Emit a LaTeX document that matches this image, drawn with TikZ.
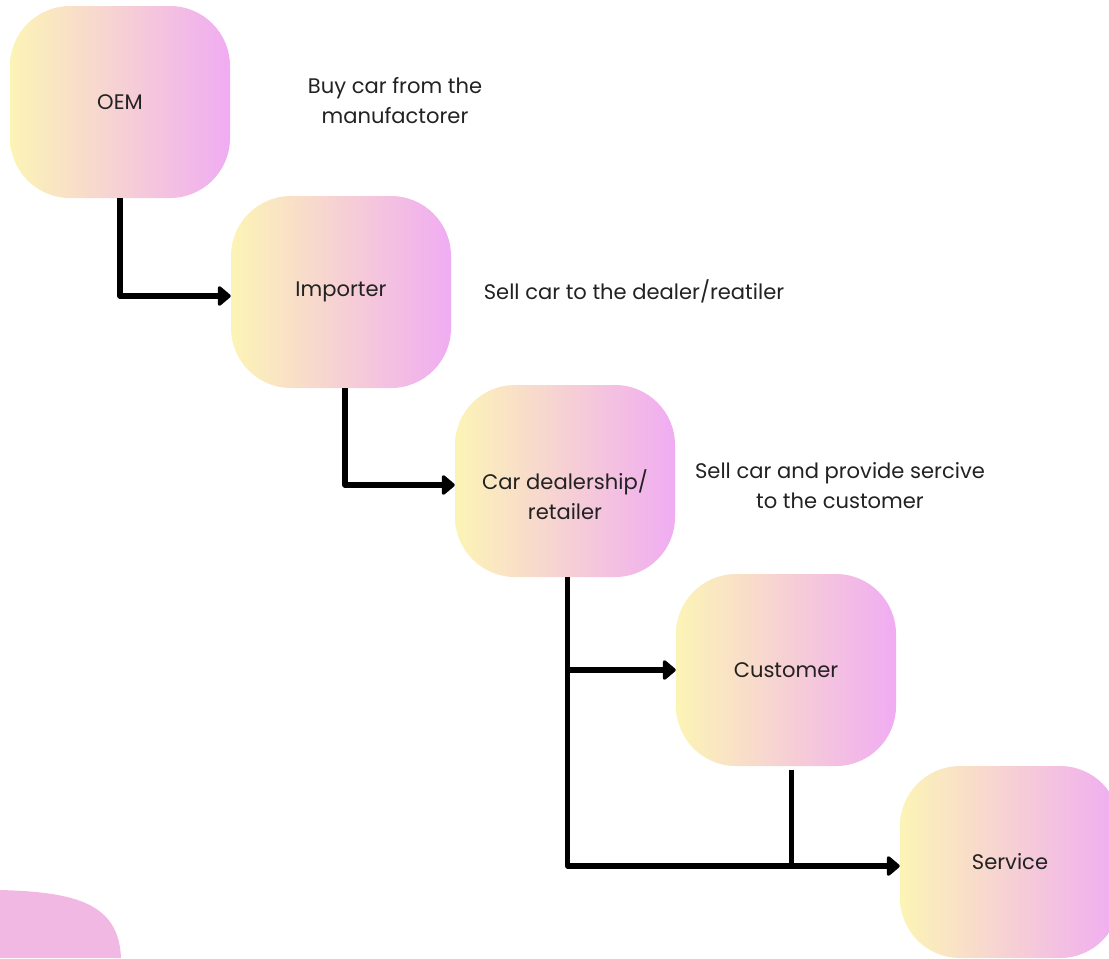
\documentclass[tikz,border=0pt]{standalone}
\usepackage{fontspec}
\setmainfont{Poppins}
\usetikzlibrary{arrows.meta}
\definecolor{gy}{RGB}{252,244,182}
\definecolor{gp}{RGB}{240,172,242}
\definecolor{blob}{RGB}{241,184,228}
\definecolor{txt}{RGB}{34,34,34}
\tikzset{
  box/.style={rounded corners=45pt, left color=gy, right color=gp, draw=none,
    minimum width=165pt, minimum height=144pt, inner sep=0pt, align=center,
    text=txt, font=\fontsize{15.8}{22.5}\selectfont},
  note/.style={align=center, text=txt, font=\fontsize{15.8}{22.5}\selectfont},
  conn/.style={line width=3.9pt, line join=round, -{Triangle[length=10.5pt,width=17pt,round]}},
  plain/.style={line width=3.9pt}
}
\begin{document}
\begin{tikzpicture}[x=0.75pt,y=-0.75pt]
\useasboundingbox (0,0) rectangle (1109,958);
\clip (0,0) rectangle (1109,958);
\fill[blob] (0,958) -- (0,890) .. controls (75,892) and (119,903) .. (121,958) -- cycle;
\node[box] (oem) at (120,102) {OEM};
\node[box] (imp) at (341,292) {Importer};
\node[box] (deal) at (565,481) {};
\node[align=center, text=txt, font=\fontsize{15.8}{22.5}\selectfont] (dealtxt) at (565,495) {Car dealership/\\retailer};
\node[box] (cust) at (786,670) {Customer};
\node[box] (serv) at (1010,862) {Service};
\node[note] (n1) at (395,101) {Buy car from the\\manufactorer};
\node[note] (n2) at (634,291) {Sell car to the dealer/reatiler};
\node[note] (n3) at (840,486) {Sell car and provide sercive\\to the customer};
\draw[conn] (oem.south) |- ([yshift=-3pt]imp.west);
\draw[conn] ([xshift=3pt]imp.south) |- ([yshift=-3pt]deal.west);
\draw[conn] ([xshift=2pt]deal.south) |- ([yshift=-3pt]serv.west);
\coordinate (j1) at ([xshift=2pt]deal.south |- cust.west);
\draw[conn] (j1) -- (cust.west);
\coordinate (j2) at ([xshift=4pt,yshift=-3pt]cust.south |- serv.west);
\draw[plain] ([xshift=4pt,yshift=-3pt]cust.south) -- (j2);
\end{tikzpicture}
\end{document}
